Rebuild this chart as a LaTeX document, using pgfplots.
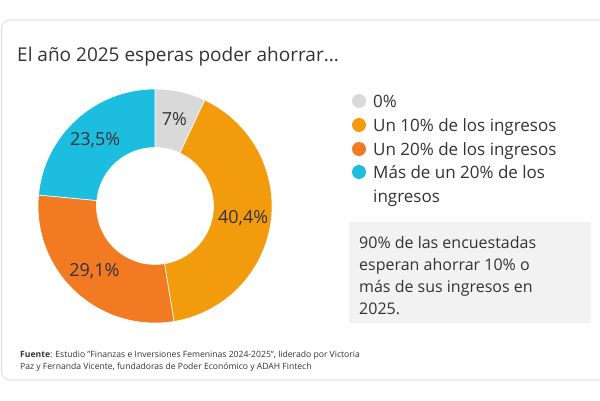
\documentclass[border=0pt]{standalone}
\usepackage{pgfplots}
\pgfplotsset{compat=1.18}
\usepackage{pgfplotstable}
\usepackage{fontspec}
\setmainfont{Open Sans}

\definecolor{cgray}{HTML}{D9D9D9}
\definecolor{corange}{HTML}{F29B0C}
\definecolor{cdorange}{HTML}{F27A22}
\definecolor{ccyan}{HTML}{1DBDDF}
\definecolor{ctext}{HTML}{333333}
\definecolor{cbox}{HTML}{F2F2F2}

\pgfplotstableread{
value
7.0
40.4
29.1
23.5
}\datatable

\newcommand\donutslice[3]{%
  \fill[#3, draw=white, line width=0.6pt]
    (axis cs:{cos(#1)},{sin(#1)}) arc[start angle=#1, end angle=#2, radius=117pt]
    -- (axis cs:{0.5*cos(#2)},{0.5*sin(#2)}) arc[start angle=#2, end angle=#1, radius=58.5pt] -- cycle;}
\newcommand\slicelabel[3]{%
  \node[font=\fontsize{18}{21}\selectfont, text=ctext, inner sep=0pt]
    at (axis cs:{0.76*cos((#1+#2)/2)},{0.76*sin((#1+#2)/2)}) {#3};}

\begin{document}
\begin{tikzpicture}[x=1pt,y=1pt]
\useasboundingbox (0,0) rectangle (600,400);
\fill[white] (0,0) rectangle (600,400);
\draw[black!12, line width=1pt, rounded corners=8pt] (1.5,20) rectangle (640,380);
\node[anchor=base west, inner sep=0pt, text=ctext, font=\fontsize{19}{23}\selectfont] at (17,338) {El año 2025 esperas poder ahorrar...};

\pgfplotstablegetelem{0}{value}\of\datatable\pgfmathsetmacro\vA{\pgfplotsretval}
\pgfplotstablegetelem{1}{value}\of\datatable\pgfmathsetmacro\vB{\pgfplotsretval}
\pgfplotstablegetelem{2}{value}\of\datatable\pgfmathsetmacro\vC{\pgfplotsretval}
\pgfplotstablegetelem{3}{value}\of\datatable\pgfmathsetmacro\vD{\pgfplotsretval}
\pgfmathsetmacro\aA{90}
\pgfmathsetmacro\aB{\aA-3.6*\vA}
\pgfmathsetmacro\aC{\aB-3.6*\vB}
\pgfmathsetmacro\aD{\aC-3.6*\vC}
\pgfmathsetmacro\aE{\aD-3.6*\vD}

\begin{axis}[at={(155pt,194pt)}, anchor=center, x=117pt, y=117pt,
  xmin=-1, xmax=1, ymin=-1, ymax=1, hide axis, clip=false]
\donutslice{\aA}{\aB}{cgray}
\donutslice{\aB}{\aC}{corange}
\donutslice{\aC}{\aD}{cdorange}
\donutslice{\aD}{\aE}{ccyan}
\slicelabel{\aA}{\aB}{7\%}
\slicelabel{\aB}{\aC}{40,4\%}
\slicelabel{\aC}{\aD}{29,1\%}
\slicelabel{\aD}{\aE}{23,5\%}
\end{axis}

% legend
\begin{scope}[every node/.style={anchor=base west, inner sep=0pt, text=ctext, font=\fontsize{17}{20}\selectfont}]
\fill[cgray] (359,299) circle (7);
\node at (373,293) {0\%};
\fill[corange] (359,275) circle (7);
\node at (373,269) {Un 10\% de los ingresos};
\fill[cdorange] (359,251) circle (7);
\node at (373,245) {Un 20\% de los ingresos};
\fill[ccyan] (359,228) circle (7);
\node at (373,222) {Más de un 20\% de los};
\node at (373,198) {ingresos};
\end{scope}

% note box
\fill[cbox] (349,77) rectangle (591,178);
\begin{scope}[every node/.style={anchor=base west, inner sep=0pt, text=ctext, font=\fontsize{16}{20}\selectfont}]
\node at (359,152) {90\% de las encuestadas};
\node at (359,130) {esperan ahorrar 10\% o};
\node at (359,108) {más de sus ingresos en};
\node at (359,86) {2025.};
\end{scope}

% footer
\begin{scope}[every node/.style={anchor=base west, inner sep=0pt, text=ctext, font=\fontsize{8.6}{11}\selectfont}]
\node at (20,43) {\textbf{Fuente}: Estudio "Finanzas e Inversiones Femeninas 2024-2025", liderado por Victoria};
\node at (20,31) {Paz y Fernanda Vicente, fundadoras de Poder Económico y ADAH Fintech};
\end{scope}
\end{tikzpicture}
\end{document}
